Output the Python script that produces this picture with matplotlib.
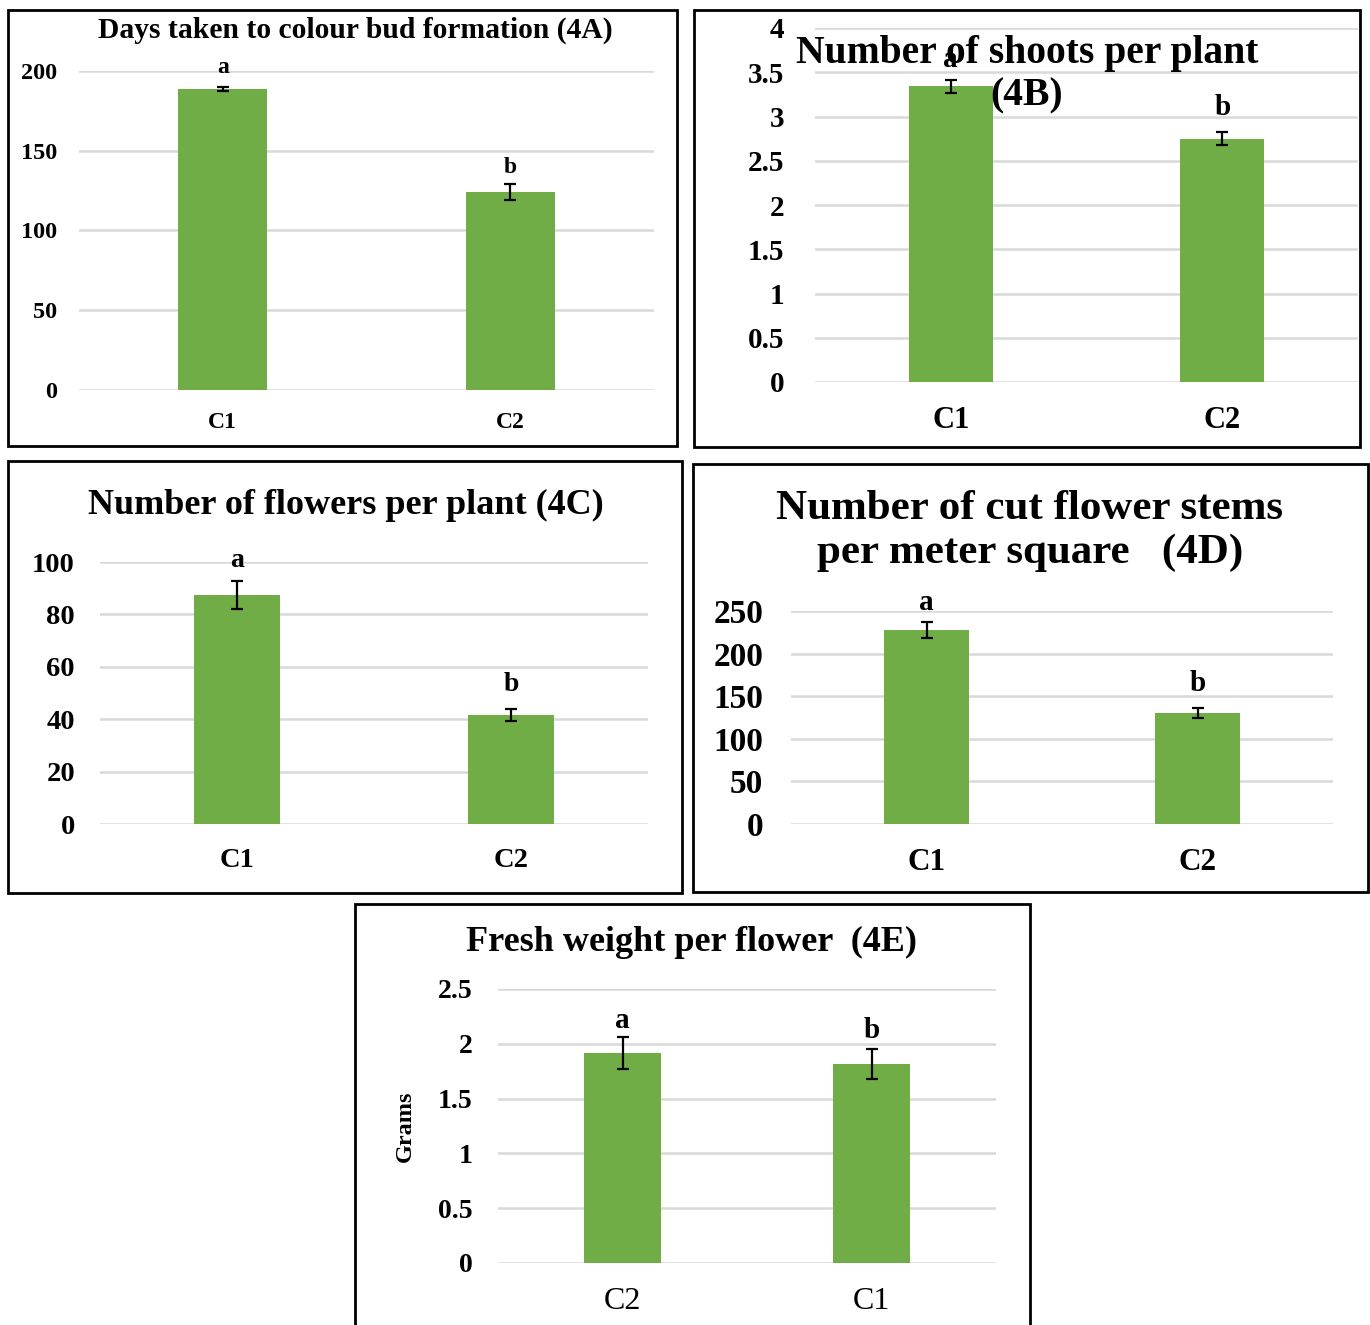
import matplotlib
matplotlib.use("Agg")
import matplotlib.pyplot as plt
from matplotlib.patches import Rectangle

plt.rcParams["font.family"] = ["Liberation Serif", "DejaVu Serif"]

W, H = 1370, 1325

# ---- data -------------------------------------------------------------
cats_a = ["C1", "C2"]
vals_a = [188.7, 124.1]
err_a = [1.2, 5.0]
sig_a = ["a", "b"]

cats_b = ["C1", "C2"]
vals_b = [3.34, 2.75]
err_b = [0.07, 0.07]
sig_b = ["a", "b"]

cats_c = ["C1", "C2"]
vals_c = [87.4, 41.6]
err_c = [5.5, 2.2]
sig_c = ["a", "b"]

cats_d = ["C1", "C2"]
vals_d = [227.7, 130.3]
err_d = [9.0, 6.0]
sig_d = ["a", "b"]

cats_e = ["C2", "C1"]
vals_e = [1.916, 1.816]
err_e = [0.145, 0.14]
sig_e = ["a", "b"]

ticks_a = [0, 50, 100, 150, 200]
ticks_b = [0, 0.5, 1, 1.5, 2, 2.5, 3, 3.5, 4]
ticks_c = [0, 20, 40, 60, 80, 100]
ticks_d = [0, 50, 100, 150, 200, 250]
ticks_e = [0, 0.5, 1, 1.5, 2, 2.5]

GREEN = "#70AD47"
GRID = "#D9D9D9"

fig = plt.figure(figsize=(W / 100, H / 100), dpi=100)
fig.patch.set_facecolor("white")


def fx(px):
    return px / W


def fy(py):
    return 1 - py / H


def frame(x0, y0, x1, y1):
    fig.patches.append(Rectangle((fx(x0), fy(y1)), fx(x1) - fx(x0), fy(y0) - fy(y1),
                                 transform=fig.transFigure, fill=False,
                                 edgecolor="black", linewidth=2.0, zorder=0))


def fmt(v):
    return f"{v:g}"


def panel(box, cats, vals, errs, sigs, ticks, tick_fs, xtick_fs, sig_fs,
          ypad, xpad, sig_off, width=0.31, xweight="bold"):
    x0, ytop, x1, ybot = box
    ax = fig.add_axes([fx(x0), fy(ybot), fx(x1) - fx(x0), fy(ytop) - fy(ybot)])
    ax.set_facecolor("none")
    xs = list(range(len(cats)))
    ax.bar(xs, vals, width=width, color=GREEN, zorder=2)
    ax.errorbar(xs, vals, yerr=errs, fmt="none", ecolor="black",
                elinewidth=1.6, capsize=4.5, capthick=1.6, zorder=3)
    for x, v, e, s, off in zip(xs, vals, errs, sigs, sig_off):
        ax.annotate(s, (x, v + e), xytext=(0, off), textcoords="offset pixels",
                    ha="center", va="center", fontsize=sig_fs,
                    fontweight="bold", zorder=4)
    ax.set_xlim(-0.5, len(cats) - 0.5)
    ax.set_ylim(ticks[0], ticks[-1])
    ax.set_yticks(ticks)
    ax.set_yticklabels([fmt(t) for t in ticks], fontsize=tick_fs, fontweight="bold")
    ax.set_xticks(xs)
    ax.set_xticklabels(cats, fontsize=xtick_fs, fontweight=xweight)
    ax.tick_params(axis="both", length=0)
    ax.tick_params(axis="y", pad=ypad)
    ax.tick_params(axis="x", pad=xpad)
    ax.yaxis.grid(True, color=GRID, linewidth=1.8, zorder=0)
    ax.set_axisbelow(True)
    for sp in ax.spines.values():
        sp.set_visible(False)
    return ax


# panel 4A
frame(8, 10, 677, 446)
panel((79, 71, 654, 390), cats_a, vals_a, err_a, sig_a, ticks_a,
      17.5, 17, 17, 16, 15.5, [20, 17])
fig.text(fx(355), fy(30), "Days taken to colour bud formation (4A)",
         ha="center", va="center", fontsize=21.3, fontweight="bold")

# panel 4B
frame(694, 10, 1360, 447)
panel((815, 28, 1358, 382), cats_b, vals_b, err_b, sig_b, ticks_b,
      21, 22, 21, 22, 17.5, [21, 25])
fig.text(fx(1027), fy(53), "Number of shoots per plant",
         ha="center", va="center", fontsize=28.5, fontweight="bold", zorder=5)
fig.text(fx(1027), fy(96), "(4B)",
         ha="center", va="center", fontsize=28.5, fontweight="bold", zorder=5)

# panel 4C
frame(8, 461, 682, 893)
panel((100, 562, 648, 824), cats_c, vals_c, err_c, sig_c, ticks_c,
      20.5, 20.5, 20, 18, 17.5, [20, 25], width=0.316)
fig.text(fx(346), fy(505), "Number of flowers per plant (4C)",
         ha="center", va="center", fontsize=26, fontweight="bold")

# panel 4D
frame(693, 464, 1368, 892)
panel((791, 611, 1333, 824), cats_d, vals_d, err_d, sig_d, ticks_d,
      24, 22.5, 21, 20, 17.5, [20, 24])
fig.text(fx(1030), fy(509), "Number of cut flower stems",
         ha="center", va="center", fontsize=31, fontweight="bold")
fig.text(fx(1030), fy(553), "per meter square   (4D)",
         ha="center", va="center", fontsize=31, fontweight="bold")

# panel 4E
frame(355, 904, 1030, 1340)
ax_e = panel((498, 989, 996, 1263), cats_e, vals_e, err_e, sig_e, ticks_e,
             20, 23, 21, 18, 17.5, [17, 18], xweight="normal")
ax_e.set_ylabel("Grams", fontsize=17.5, fontweight="bold", labelpad=16)
fig.text(fx(692), fy(942), "Fresh weight per flower  (4E)",
         ha="center", va="center", fontsize=26, fontweight="bold")

fig.savefig("out.png", dpi=100, facecolor="white")
